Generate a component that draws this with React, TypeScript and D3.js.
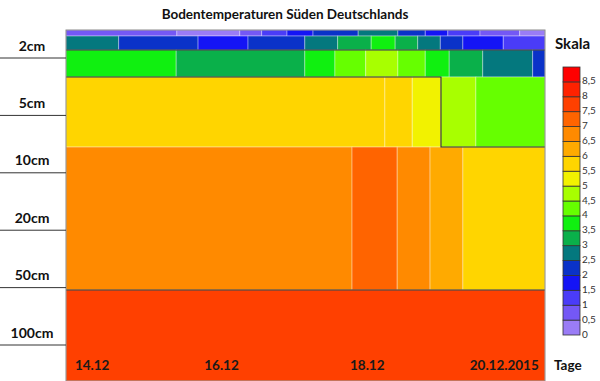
import React from "react";
import * as d3 from "d3";

// ---- data ----
const title = "Bodentemperaturen Süden Deutschlands";
const depthLabels = ["2cm", "5cm", "10cm", "20cm", "50cm", "100cm"];
const depthLevels = [0, 1, 2, 3, 4, 5];

const xTickLabels = ["14.12", "16.12", "18.12", "20.12.2015"];
const xTickDays = [14.13, 16.02, 18.15, 19.9];

const dayDomain = [14, 21];
const levelDomain = [-0.488, 5.627];

// row boundaries (depth level units), top to bottom
const rowBounds = [-0.488, -0.383, -0.139, 0.331, 1.551, 4.042, 5.627];

// per-row cell breaks (days) and temperatures (°C)
const rowABreaks = [14, 15.62, 16.54, 16.86, 17.23, 17.61, 18.27, 18.85, 19.25, 19.58, 20.05, 20.63, 21];
const rowAValues = [0.75, 0.25, 0.75, 1.25, 1.75, 2.25, 2.75, 2.25, 1.75, 1.25, 0.75, 0.25];

const rowBBreaks = [14, 14.77, 15.93, 16.66, 17.49, 17.97, 18.46, 18.81, 19.14, 19.47, 19.8, 20.39, 21];
const rowBValues = [2.75, 2.25, 1.75, 2.25, 2.75, 3.25, 3.75, 3.25, 2.75, 2.25, 1.75, 1.25];

const rowCBreaks = [14, 15.61, 17.49, 17.93, 18.38, 18.85, 19.25, 19.6, 20.09, 20.82, 21];
const rowCValues = [3.75, 3.25, 3.75, 4.25, 4.75, 4.25, 3.75, 3.25, 2.75, 2.25];

const rowDBreaks = [14, 18.66, 19.06, 19.48, 19.99, 21];
const rowDValues = [5.75, 5.75, 5.25, 4.75, 4.25];

const rowEBreaks = [14, 18.18, 18.84, 19.32, 19.8, 21];
const rowEValues = [6.75, 7.25, 6.75, 6.25, 5.75];

const rowFBreaks = [14, 21];
const rowFValues = [7.75];

// isotherm contour lines (day, level)
const isoBC = [[14, -0.139], [21, -0.139]];
const isoCD = [[14, 0.331], [19.48, 0.331], [19.48, 1.551], [21, 1.551]];
const isoEF = [[14, 4.042], [21, 4.042]];

// colour scale
const scaleStops = [0.5, 1, 1.5, 2, 2.5, 3, 3.5, 4, 4.5, 5, 5.5, 6, 6.5, 7, 7.5, 8, 8.5];
const scaleColors = [
  "#9a7cf6", "#7458f5", "#4a3cf8", "#1414f5", "#0a32c8", "#04787e",
  "#0ab04a", "#10f010", "#66ff00", "#a8ff00", "#f2f200", "#ffd500",
  "#ffaa00", "#ff8a00", "#ff6400", "#ff4000", "#ff2200", "#ff0000",
];
const scaleTickValues = [0, 0.5, 1, 1.5, 2, 2.5, 3, 3.5, 4, 4.5, 5, 5.5, 6, 6.5, 7, 7.5, 8, 8.5];
const scaleMax = 9;

const rows = [
  { breaks: rowABreaks, values: rowAValues },
  { breaks: rowBBreaks, values: rowBValues },
  { breaks: rowCBreaks, values: rowCValues },
  { breaks: rowDBreaks, values: rowDValues },
  { breaks: rowEBreaks, values: rowEValues },
  { breaks: rowFBreaks, values: rowFValues },
];

const W = 600;
const H = 381;
const plot = { left: 66, right: 545, top: 30, bottom: 381 };
const FONT = "Lato, 'Open Sans', sans-serif";

export default function App() {
  const x = d3.scaleLinear().domain(dayDomain).range([plot.left, plot.right]);
  const y = d3.scaleLinear().domain(levelDomain).range([plot.top, plot.bottom]);
  const color = d3.scaleThreshold<number, string>().domain(scaleStops).range(scaleColors);
  const legendY = d3.scaleLinear().domain([0, scaleMax]).range([335, 67]);
  const line = d3.line<number[]>().x((d) => x(d[0])).y((d) => y(d[1]));
  const fmt = (v: number) => String(v).replace(".", ",");

  const cells: React.ReactNode[] = [];
  rows.forEach((r, ri) => {
    const y0 = y(rowBounds[ri]);
    const y1 = y(rowBounds[ri + 1]);
    r.values.forEach((v, ci) => {
      const x0 = x(r.breaks[ci]);
      const x1 = x(r.breaks[ci + 1]);
      cells.push(
        <rect
          key={`c${ri}-${ci}`}
          x={x0}
          y={y0}
          width={x1 - x0}
          height={y1 - y0}
          fill={color(v)}
          stroke="rgba(255,255,255,0.35)"
          strokeWidth={1}
        />
      );
    });
  });

  return (
    <svg
      width={W}
      height={H}
      style={{ position: "absolute", left: 0, top: 0, background: "#fff" }}
      fontFamily={FONT}
    >
      <rect x={0} y={0} width={W} height={H} fill="#fff" />
      <text x={285} y={16} textAnchor="middle" dominantBaseline="middle" fontSize={13.5} fontWeight="bold" fill="#111">
        {title}
      </text>

      <g>{cells}</g>
      {[isoBC, isoCD, isoEF].map((pts, i) => (
        <path key={`iso${i}`} d={line(pts) || ""} fill="none" stroke="#2a2a2a" strokeWidth={1.1} />
      ))}
      <rect
        x={plot.left}
        y={plot.top}
        width={plot.right - plot.left}
        height={plot.bottom - plot.top}
        fill="none"
        stroke="#8a8a8a"
        strokeWidth={1}
      />

      {depthLevels.map((lv, i) => (
        <g key={`d${i}`}>
          <line x1={0} x2={plot.left} y1={y(lv)} y2={y(lv)} stroke="#333" strokeWidth={1} />
          <text x={32} y={y(lv) - 11} textAnchor="middle" dominantBaseline="middle" fontSize={14} fontWeight="bold" fill="#111">
            {depthLabels[i]}
          </text>
        </g>
      ))}

      {xTickDays.map((d, i) => (
        <text key={`t${i}`} x={x(d)} y={367} dominantBaseline="middle" fontSize={13.5} fontWeight="bold" fill="#1a1a1a">
          {xTickLabels[i]}
        </text>
      ))}
      <text x={554} y={367} dominantBaseline="middle" fontSize={13.5} fontWeight="bold" fill="#111">
        Tage
      </text>

      <text x={555} y={45} dominantBaseline="middle" fontSize={15} fontWeight="bold" fill="#111">
        Skala
      </text>
      {scaleColors.map((c, i) => {
        const lo = i * 0.5;
        const hi = lo + 0.5;
        return (
          <rect
            key={`s${i}`}
            x={563}
            y={legendY(hi)}
            width={17}
            height={legendY(lo) - legendY(hi)}
            fill={c}
            stroke="#333"
            strokeWidth={0.8}
          />
        );
      })}
      {scaleTickValues.map((v, i) => (
        <text key={`l${i}`} x={582} y={legendY(v)} dominantBaseline="middle" fontSize={10} fill="#333">
          {fmt(v)}
        </text>
      ))}
    </svg>
  );
}
